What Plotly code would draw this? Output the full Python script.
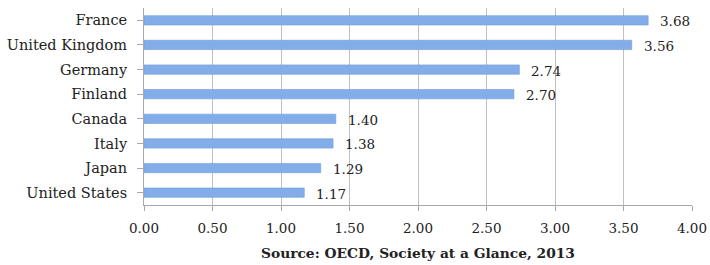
import plotly.graph_objects as go

countries = ["France", "United Kingdom", "Germany", "Finland", "Canada", "Italy", "Japan", "United States"]
values = [3.68, 3.56, 2.74, 2.70, 1.40, 1.38, 1.29, 1.17]
x_ticks = [0, 0.5, 1.0, 1.5, 2.0, 2.5, 3.0, 3.5, 4.0]
x_tick_labels = ["0.00", "0.50", "1.00", "1.50", "2.00", "2.50", "3.00", "3.50", "4.00"]
source = "Source: OECD, Society at a Glance, 2013"

font_family = "DejaVu Serif"

fig = go.Figure(go.Bar(
    x=values,
    y=countries,
    orientation="h",
    width=0.38,
    marker=dict(color="#82ade8", line=dict(color="#6f9cdc", width=0.6)),
    hoverinfo="skip",
))

annotations = [dict(
    x=v, y=c, xref="x", yref="y", text=f"{v:.2f}", showarrow=False,
    xanchor="left", yanchor="middle", xshift=10, yshift=-1,
    font=dict(family=font_family, size=13.5, color="#222"),
) for c, v in zip(countries, values)]

annotations.append(dict(
    text=f"<b>{source}</b>", x=0.5, y=0, xref="paper", yref="paper",
    xanchor="center", yanchor="top", yshift=-38, showarrow=False,
    font=dict(family=font_family, size=13.8, color="#222"),
))

fig.update_layout(
    width=710, height=265,
    margin=dict(l=144, r=18, t=8, b=60),
    paper_bgcolor="white", plot_bgcolor="white",
    showlegend=False,
    font=dict(family=font_family, size=14, color="#222"),
    xaxis=dict(
        range=[0, 4.0], tickvals=x_ticks, ticktext=x_tick_labels,
        showgrid=True, gridcolor="#c0c0c0", gridwidth=1,
        showline=True, linecolor="#a8a8a8", linewidth=1,
        ticks="outside", ticklen=5, tickcolor="#a8a8a8",
        zeroline=False, automargin=False, ticklabelstandoff=6,
        tickfont=dict(family=font_family, size=13.5, color="#222"),
    ),
    yaxis=dict(
        categoryorder="array", categoryarray=countries[::-1],
        showline=True, linecolor="#a8a8a8", linewidth=1,
        ticks="outside", ticklen=6, tickcolor="#a8a8a8",
        showgrid=False, ticklabelstandoff=7, automargin=False,
        tickfont=dict(family=font_family, size=14.5, color="#222"),
    ),
    annotations=annotations,
)

fig.write_html(
    "out.html",
    config={"displayModeBar": False},
    post_script="document.body.style.margin='0';document.body.style.overflow='hidden';",
)
